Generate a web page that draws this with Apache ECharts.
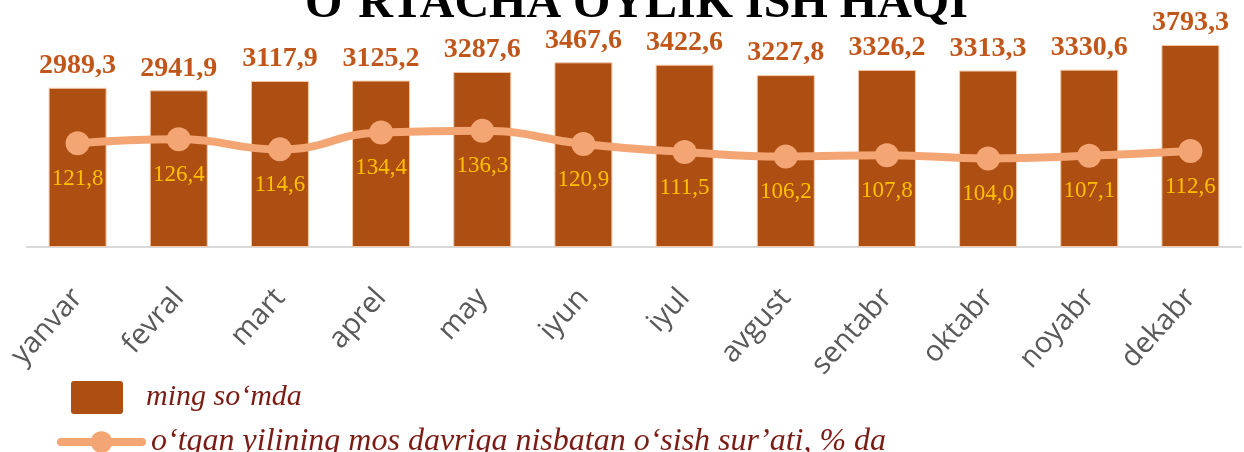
<!DOCTYPE html>
<html>
<head>
<meta charset="utf-8">
<script src="https://cdn.jsdelivr.net/npm/echarts@6/dist/echarts.min.js"></script>
<style>
  html, body { margin: 0; padding: 0; background: #fff; }
  #chart { width: 1244px; height: 452px; }
</style>
</head>
<body>
<div id="chart"></div>
<script>
// Monthly average wage and year-over-year growth rate
const months = ['yanvar', 'fevral', 'mart', 'aprel', 'may', 'iyun', 'iyul', 'avgust', 'sentabr', 'oktabr', 'noyabr', 'dekabr'];
const wageThousands = [2989.3, 2941.9, 3117.9, 3125.2, 3287.6, 3467.6, 3422.6, 3227.8, 3326.2, 3313.3, 3330.6, 3793.3];
const growthPercent = [121.8, 126.4, 114.6, 134.4, 136.3, 120.9, 111.5, 106.2, 107.8, 104.0, 107.1, 112.6];

const barName = 'ming soʻmda';
const lineName = 'oʻtgan yilining mos davriga nisbatan oʻsish surʼati, % da';

const BAR_COLOR = '#AD4E12';
const LINE_COLOR = '#F3A574';

const fmt = v => v.toFixed(1).replace('.', ',');

const legendText = { fontFamily: 'Liberation Serif', fontStyle: 'italic', color: '#7A1C14' };

const chart = echarts.init(document.getElementById('chart'));
chart.setOption({
  animation: false,
  title: {
    text: 'OʻRTACHA OYLIK ISH HAQI',
    left: 300,
    top: -24,
    textStyle: { fontFamily: 'Liberation Serif', fontWeight: 'bold', fontSize: 48, color: '#000' }
  },
  grid: { left: 27, right: 3, top: 34, bottom: 205, containLabel: false },
  legend: [
    {
      data: [barName],
      left: 66, top: 376,
      itemWidth: 52, itemHeight: 33,
      icon: 'path://M3,0 L49,0 Q52,0 52,3 L52,30 Q52,33 49,33 L3,33 Q0,33 0,30 L0,3 Q0,0 3,0 Z',
      itemGap: 0,
      itemStyle: { color: BAR_COLOR, borderWidth: 0 },
      textStyle: Object.assign({ fontSize: 30, padding: [0, 0, 6, 18] }, legendText)
    },
    {
      data: [lineName],
      left: 52, top: 421,
      itemWidth: 81, itemHeight: 27,
      itemGap: 0,
      lineStyle: { color: LINE_COLOR, width: 8, cap: 'round' },
      itemStyle: { color: LINE_COLOR },
      textStyle: Object.assign({ fontSize: 32, padding: [0, 0, 10, 4] }, legendText)
    }
  ],
  xAxis: {
    type: 'category',
    data: months,
    axisLine: { lineStyle: { color: '#D9D9D9', width: 2 } },
    axisTick: { show: false },
    axisLabel: {
      rotate: 48,
      margin: 46,
      fontFamily: 'Open Sans',
      fontSize: 29,
      color: '#595959'
    }
  },
  yAxis: [
    { type: 'value', min: 0, max: 4000, show: false },
    { type: 'value', min: 0, max: 250, show: false }
  ],
  series: [
    {
      name: barName,
      type: 'bar',
      data: wageThousands,
      barWidth: 58,
      itemStyle: { color: BAR_COLOR, borderColor: '#F3C9A8', borderWidth: 1 },
      label: {
        show: true,
        position: 'top',
        distance: 8,
        formatter: p => fmt(p.value),
        fontFamily: 'Liberation Serif',
        fontWeight: 'bold',
        fontSize: 28,
        color: '#C0561A'
      }
    },
    {
      name: lineName,
      type: 'line',
      yAxisIndex: 1,
      data: growthPercent,
      smooth: true,
      symbol: 'circle',
      symbolSize: 24,
      lineStyle: { color: LINE_COLOR, width: 8 },
      itemStyle: { color: LINE_COLOR },
      label: {
        show: true,
        position: 'bottom',
        distance: 12,
        formatter: p => fmt(p.value),
        fontFamily: 'Liberation Serif',
        fontSize: 23,
        color: '#FFC000'
      }
    }
  ]
});
</script>
</body>
</html>
